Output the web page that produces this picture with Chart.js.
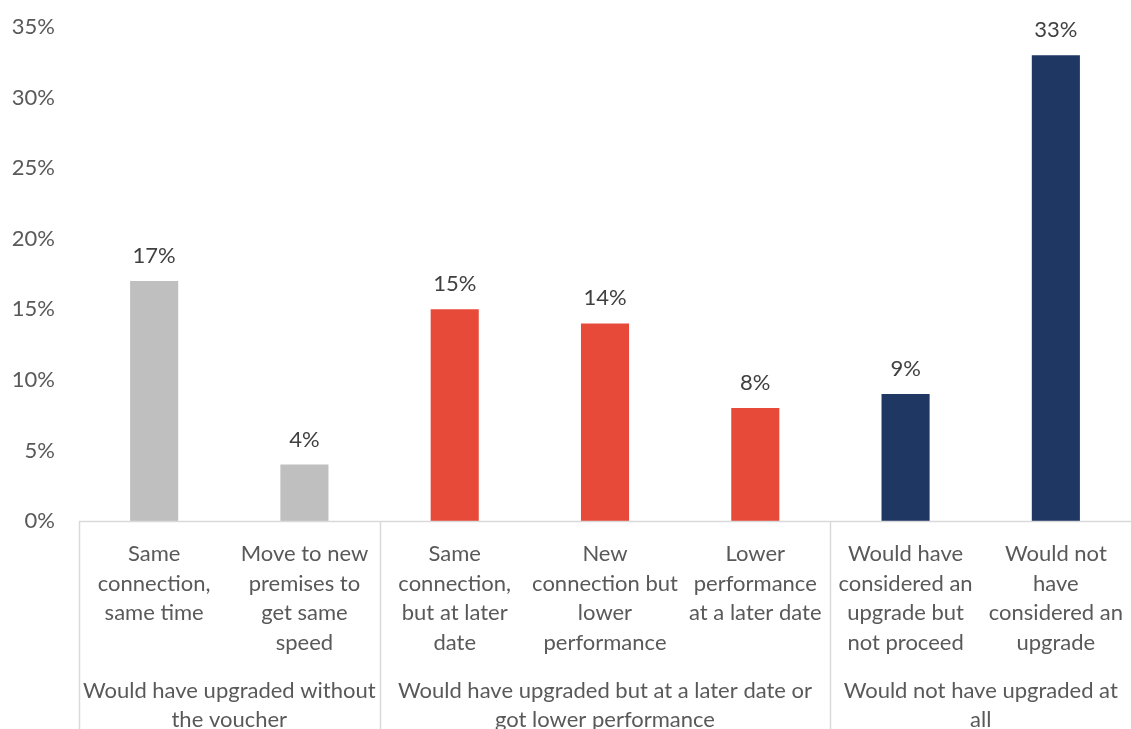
<!DOCTYPE html>
<html>
<head>
<meta charset="utf-8">
<script src="https://cdn.jsdelivr.net/npm/chart.js@4/dist/chart.umd.min.js"></script>
<style>
  html, body { margin: 0; padding: 0; background: #ffffff; }
  #wrap { width: 1131px; height: 729px; position: relative; }
</style>
</head>
<body>
<div id="wrap"><canvas id="chart"></canvas></div>
<script>
// Survey responses: what businesses would have done without the voucher
const categories = [
  ["Same", "connection,", "same time"],
  ["Move to new", "premises to", "get same", "speed"],
  ["Same", "connection,", "but at later", "date"],
  ["New", "connection but", "lower", "performance"],
  ["Lower", "performance", "at a later date"],
  ["Would have", "considered an", "upgrade but", "not proceed"],
  ["Would not", "have", "considered an", "upgrade"]
];
const values = [17, 4, 15, 14, 8, 9, 33];
const barColors = ["#BFBFBF", "#BFBFBF", "#E84A3A", "#E84A3A", "#E84A3A", "#1F3763", "#1F3763"];

// Groups: label lines plus the index range of categories they span
const groupLabels = [
  ["Would have upgraded without", "the voucher"],
  ["Would have upgraded but at a later date or", "got lower performance"],
  ["Would not have upgraded at", "all"]
];
const groupStarts = [0, 2, 5];
const groupEnds = [1, 4, 6];

const yTicks = [0, 5, 10, 15, 20, 25, 30, 35];

const FONT = "Lato, 'Noto Sans', sans-serif";
const AXIS_GRAY = "#D9D9D9";

const labelsPlugin = {
  id: "categoryLayout",
  afterDatasetsDraw(chart) {
    const ctx = chart.ctx;
    const area = chart.chartArea;
    const x = chart.scales.x;
    const meta = chart.getDatasetMeta(0);
    const step = x.getPixelForValue(1) - x.getPixelForValue(0);
    ctx.save();

    // value labels above bars
    ctx.font = "22px " + FONT;
    ctx.fillStyle = "#404040";
    ctx.textAlign = "center";
    ctx.textBaseline = "middle";
    meta.data.forEach((bar, i) => {
      ctx.fillText(values[i] + "%", bar.x, bar.y - 25);
    });

    // horizontal axis line
    ctx.strokeStyle = AXIS_GRAY;
    ctx.lineWidth = 1.5;
    ctx.beginPath();
    ctx.moveTo(area.left, area.bottom + 0.5);
    ctx.lineTo(area.right, area.bottom + 0.5);
    ctx.stroke();

    // group separators
    const seps = [area.left];
    groupEnds.slice(0, -1).forEach(e => seps.push(x.getPixelForValue(e) + step / 2));
    seps.forEach(sx => {
      ctx.beginPath();
      ctx.moveTo(Math.round(sx) + 0.5, area.bottom);
      ctx.lineTo(Math.round(sx) + 0.5, chart.height);
      ctx.stroke();
    });

    // category labels
    ctx.fillStyle = "#595959";
    ctx.font = "22px " + FONT;
    const lineH = 29.6;
    categories.forEach((lines, i) => {
      const cx = x.getPixelForValue(i);
      lines.forEach((ln, j) => ctx.fillText(ln, cx, area.bottom + 33 + j * lineH));
    });

    // group labels
    groupLabels.forEach((lines, g) => {
      const left = x.getPixelForValue(groupStarts[g]) - step / 2;
      const right = Math.min(x.getPixelForValue(groupEnds[g]) + step / 2, area.right);
      const cx = (left + right) / 2;
      lines.forEach((ln, j) => ctx.fillText(ln, cx, area.bottom + 170 + j * 29));
    });
    ctx.restore();
  }
};

new Chart(document.getElementById("chart"), {
  type: "bar",
  data: {
    labels: categories.map(c => c.join(" ")),
    datasets: [{
      data: values,
      backgroundColor: barColors,
      borderWidth: 0,
      barPercentage: 0.32,
      categoryPercentage: 1.0
    }]
  },
  options: {
    responsive: true,
    maintainAspectRatio: false,
    animation: false,
    events: [],
    layout: { padding: { top: 27, bottom: 208, left: 0, right: 0 } },
    plugins: { legend: { display: false }, tooltip: { enabled: false } },
    scales: {
      x: { display: false },
      y: {
        min: 0,
        max: 35,
        afterFit(scale) {
          scale.width = 79;
          scale.paddingTop = 0;
          scale.paddingBottom = 0;
        },
        afterBuildTicks(scale) { scale.ticks = yTicks.map(v => ({ value: v })); },
        grid: { display: false, drawTicks: false },
        border: { display: false },
        ticks: {
          padding: 24,
          color: "#595959",
          font: { family: FONT, size: 22 },
          callback: v => v + "%"
        }
      }
    }
  },
  plugins: [labelsPlugin]
});
</script>
</body>
</html>
